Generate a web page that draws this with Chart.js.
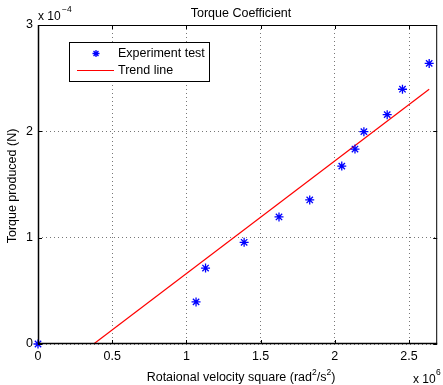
<!DOCTYPE html>
<html>
<head>
<meta charset="utf-8">
<script src="https://cdn.jsdelivr.net/npm/chart.js@4/dist/chart.umd.min.js"></script>
<style>
  html, body { margin: 0; padding: 0; background: #fff; }
  #wrap { width: 443px; height: 385px; position: relative; }
</style>
</head>
<body>
<div id="wrap"><canvas id="torqueChart"></canvas></div>
<script>
// values in units of 1e6 (x) and 1e-4 (y)
const speedSq = [0, 1.065, 1.129, 1.389, 1.624, 1.831, 2.047, 2.136, 2.196, 2.353, 2.456, 2.636];
const torque = [0, 0.396, 0.714, 0.956, 1.195, 1.355, 1.673, 1.833, 1.997, 2.157, 2.396, 2.639];
const trendX = [0.375, 2.636];
const trendY = [0, 2.396];
const xTicks = [0, 0.5, 1, 1.5, 2, 2.5];
const yTicks = [0, 1, 2, 3];

const FONT = 'Liberation Sans, Arial, Helvetica, sans-serif';
const SIZE = 12.5;

function star(ctx, x, y, r) {
  ctx.beginPath();
  ctx.moveTo(x - r, y); ctx.lineTo(x + r, y);
  ctx.moveTo(x, y - r); ctx.lineTo(x, y + r);
  const d = r * 0.7071;
  ctx.moveTo(x - d, y - d); ctx.lineTo(x + d, y + d);
  ctx.moveTo(x - d, y + d); ctx.lineTo(x + d, y - d);
  ctx.stroke();
}

const decorations = {
  id: 'decorations',
  afterDraw(chart) {
    const { ctx, chartArea: a, scales } = chart;
    ctx.save();

    // axes box
    ctx.strokeStyle = '#000';
    ctx.lineWidth = 1;
    ctx.strokeRect(a.left + 0.5, a.top + 0.5, a.right - a.left - 1, a.bottom - a.top - 1);
    ctx.lineWidth = 1.5;
    ctx.beginPath();
    ctx.moveTo(a.left + 0.5, a.top);
    ctx.lineTo(a.left + 0.5, a.bottom - 0.5);
    ctx.lineTo(a.right, a.bottom - 0.5);
    ctx.stroke();

    // inward tick marks
    ctx.lineWidth = 1;
    ctx.beginPath();
    xTicks.forEach((v) => {
      const px = Math.round(scales.x.getPixelForValue(v)) + 0.5;
      ctx.moveTo(px, a.bottom); ctx.lineTo(px, a.bottom - 4);
      ctx.moveTo(px, a.top); ctx.lineTo(px, a.top + 4);
    });
    yTicks.forEach((v) => {
      const py = Math.round(scales.y.getPixelForValue(v)) + 0.5;
      ctx.moveTo(a.left, py); ctx.lineTo(a.left + 4, py);
      ctx.moveTo(a.right, py); ctx.lineTo(a.right - 4, py);
    });
    ctx.stroke();

    ctx.fillStyle = '#000';
    ctx.textBaseline = 'alphabetic';

    // title
    ctx.font = SIZE + 'px ' + FONT;
    ctx.textAlign = 'center';
    ctx.fillText('Torque Coefficient', 241, 17);

    // exponent labels
    ctx.textAlign = 'left';
    ctx.font = '12px ' + FONT;
    ctx.fillText('x 10', 38, 20);
    ctx.font = '8.5px ' + FONT;
    ctx.fillText('\u22124', 62, 12);
    ctx.font = '12px ' + FONT;
    ctx.fillText('x 10', 413, 383);
    ctx.font = '8.5px ' + FONT;
    ctx.fillText('6', 436, 375);

    // x axis title
    const parts = [['Rotaional velocity square (rad', 0], ['2', 1], ['/s', 0], ['2', 1], [')', 0]];
    const setFont = (p) => { ctx.font = (p[1] ? '8.5px ' : SIZE + 'px ') + FONT; };
    const total = parts.reduce((s, p) => { setFont(p); return s + ctx.measureText(p[0]).width; }, 0);
    let cx = 241 - total / 2;
    parts.forEach((p) => {
      setFont(p);
      ctx.fillText(p[0], cx, p[1] ? 375 : 381);
      cx += ctx.measureText(p[0]).width;
    });

    // y axis title
    ctx.save();
    ctx.translate(16, 186);
    ctx.rotate(-Math.PI / 2);
    ctx.textAlign = 'center';
    ctx.font = SIZE + 'px ' + FONT;
    ctx.fillText('Torque produced (N)', 0, 0);
    ctx.restore();

    // legend
    ctx.fillStyle = '#fff';
    ctx.fillRect(69, 42, 140, 39);
    ctx.strokeStyle = '#000';
    ctx.lineWidth = 1;
    ctx.strokeRect(69.5, 42.5, 140, 39);
    ctx.strokeStyle = '#0000ff';
    ctx.lineWidth = 1.3;
    star(ctx, 96, 53.5, 3.5);
    ctx.strokeStyle = '#ff0000';
    ctx.lineWidth = 1;
    ctx.beginPath();
    ctx.moveTo(77, 70.5); ctx.lineTo(114, 70.5);
    ctx.stroke();
    ctx.fillStyle = '#000';
    ctx.font = SIZE + 'px ' + FONT;
    ctx.textAlign = 'left';
    ctx.textBaseline = 'middle';
    ctx.fillText(chart.data.datasets[0].label, 118, 54);
    ctx.fillText(chart.data.datasets[1].label, 118, 71);

    ctx.restore();
  }
};

new Chart(document.getElementById('torqueChart'), {
  type: 'scatter',
  data: {
    datasets: [
      {
        label: 'Experiment test',
        data: speedSq.map((x, i) => ({ x, y: torque[i] })),
        pointStyle: 'star',
        pointRadius: 4.5,
        borderColor: '#0000ff',
        backgroundColor: '#0000ff',
        pointBorderWidth: 1.3,
        clip: false
      },
      {
        label: 'Trend line',
        data: trendX.map((x, i) => ({ x, y: trendY[i] })),
        showLine: true,
        pointRadius: 0,
        borderColor: '#ff0000',
        borderWidth: 1.2
      }
    ]
  },
  options: {
    responsive: true,
    maintainAspectRatio: false,
    animation: false,
    layout: { padding: { top: 25, right: 1, left: 0, bottom: 0 } },
    plugins: { legend: { display: false }, title: { display: false }, tooltip: { enabled: false } },
    scales: {
      x: {
        type: 'linear',
        min: 0,
        max: 2.69,
        afterFit: (s) => { s.height = 41; },
        ticks: {
          stepSize: 0.5,
          includeBounds: false,
          padding: 5,
          color: '#000',
          font: { family: FONT, size: 12.5 },
          maxRotation: 0,
          callback: (v) => String(v)
        },
        grid: { color: '#777', lineWidth: 1, drawTicks: false },
        border: { display: false, dash: [1, 3] }
      },
      y: {
        type: 'linear',
        min: 0,
        max: 3,
        afterFit: (s) => { s.width = 38; },
        ticks: {
          stepSize: 1,
          padding: 5,
          color: '#000',
          font: { family: FONT, size: 12.5 },
          callback: (v) => String(v)
        },
        grid: { color: '#777', lineWidth: 1, drawTicks: false },
        border: { display: false, dash: [1, 3] }
      }
    }
  },
  plugins: [decorations]
});
</script>
</body>
</html>
